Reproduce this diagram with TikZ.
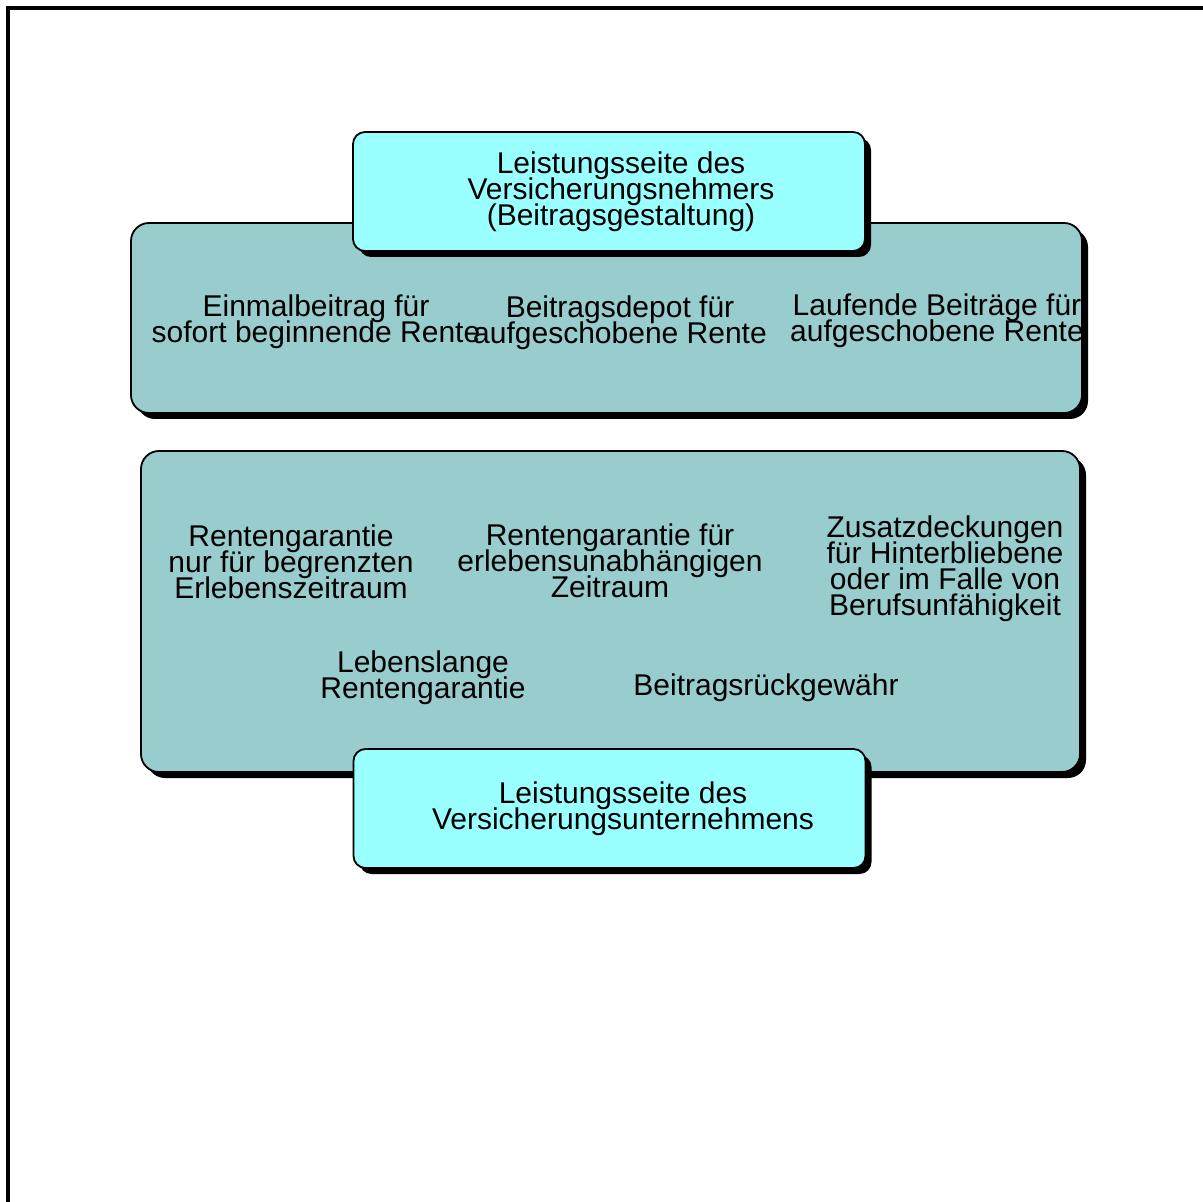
\documentclass[tikz,border=0pt]{standalone}
\usepackage{fontspec}
\setmainfont{Liberation Sans}
\usetikzlibrary{shadows}
\definecolor{cyanhell}{HTML}{99FFFF}
\definecolor{blaugruen}{HTML}{99CCCC}
\newcommand\kastenschrift{\fontsize{15}{13}\selectfont\lineskiplimit=-10pt\relax}
\tikzset{
  kopf/.style={rectangle, rounded corners=6pt, draw=black, line width=0.9pt, fill=cyanhell,
               minimum width=256pt, minimum height=59.5pt, inner sep=0pt,
               drop shadow={shadow xshift=3pt, shadow yshift=-3pt, fill=black, opacity=1}},
  feld/.style={rectangle, rounded corners=9pt, draw=black, line width=0.9pt, fill=blaugruen,
               inner sep=0pt,
               drop shadow={shadow xshift=3pt, shadow yshift=-3pt, fill=black, opacity=1}},
  eintrag/.style={font=\kastenschrift, align=center, inner sep=0pt}
}
\begin{document}
\begin{tikzpicture}[x=0.5pt, y=-0.5pt]
  \useasboundingbox (0,0) rectangle (1203,1202);
  \draw [line width=2.2pt] (8,1202) -- (8,8) -- (1203,8);
  % Beitragsseite
  \node (beitraege) [feld, minimum width=475.5pt, minimum height=95pt] at (606.5,318) {};
  \node (nehmer) [kopf] at (609,191.5) {};
  \node [eintrag] at (621,192) {Leistungsseite des\\Versicherungsnehmers\\(Beitragsgestaltung)};
  \node (einmal) [eintrag] at (316,322) {Einmalbeitrag für\\sofort beginnende Rente};
  \node (depot) [eintrag] at (620,323) {Beitragsdepot für\\aufgeschobene Rente};
  \node (laufend) [eintrag] at (937,321) {Laufende Beiträge für\\aufgeschobene Rente};
  % Leistungsseite
  \node (leistungen) [feld, minimum width=469.5pt, minimum height=160.5pt] at (610.5,611.5) {};
  \node (unternehmen) [kopf] at (609.5,808.5) {};
  \node [eintrag] at (623,809) {Leistungsseite des\\Versicherungsunternehmens};
  \node (begrenzt) [eintrag] at (291,562) {Rentengarantie\\nur für begrenzten\\Erlebenszeitraum};
  \node (unabh) [eintrag] at (610,561) {Rentengarantie für\\erlebensunabhängigen\\Zeitraum};
  \node (zusatz) [eintrag] at (945,569) {Zusatzdeckungen\\für Hinterbliebene\\oder im Falle von\\Berufsunfähigkeit};
  \node (lebenslang) [eintrag] at (423,678) {Lebenslange\\Rentengarantie};
  \node (rueckgewaehr) [eintrag] at (766,688) {Beitragsrückgewähr};
\end{tikzpicture}
\end{document}
